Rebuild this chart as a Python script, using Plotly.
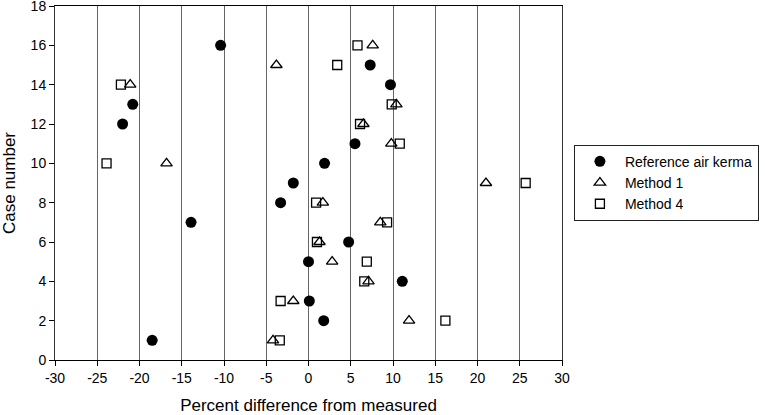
import plotly.graph_objects as go

cases = list(range(1, 17))
ref_air_kerma = [-18.5, 1.8, 0.1, 11.1, 0.0, 4.75, -13.9, -3.3, -1.8, 1.9, 5.5, -22.0, -20.8, 9.7, 7.3, -10.4]
method1 = [-4.2, 11.9, -1.8, 7.1, 2.8, 1.3, 8.5, 1.7, 21.0, -16.8, 9.8, 6.5, 10.4, -21.1, -3.8, 7.6]
method4 = [-3.4, 16.2, -3.3, 6.6, 6.9, 1.0, 9.3, 0.9, 25.7, -23.9, 10.8, 6.1, 9.85, -22.2, 3.4, 5.8]

x_ticks = [-30, -25, -20, -15, -10, -5, 0, 5, 10, 15, 20, 25, 30]
y_ticks = [0, 2, 4, 6, 8, 10, 12, 14, 16, 18]

fig = go.Figure()
fig.add_trace(go.Scatter(x=ref_air_kerma, y=cases, mode="markers", name="Reference air kerma",
                         marker=dict(symbol="circle", size=11, color="black")))
fig.add_trace(go.Scatter(x=method1, y=cases, mode="markers", name="Method 1",
                         marker=dict(symbol="triangle-up-open", size=10, color="black",
                                     line=dict(width=1.3, color="black"))))
fig.add_trace(go.Scatter(x=method4, y=cases, mode="markers", name="Method 4",
                         marker=dict(symbol="square-open", size=9, color="black",
                                     line=dict(width=1.3, color="black"))))

font = "Liberation Sans, Arial, sans-serif"
fig.update_layout(
    width=765, height=415,
    margin=dict(l=55, r=199, t=6, b=55),
    plot_bgcolor="white", paper_bgcolor="white",
    font=dict(family=font, size=14, color="black"),
    showlegend=True,
    legend=dict(x=1.0235, y=0.608, xanchor="left", yanchor="top",
                bordercolor="#222222", borderwidth=1, bgcolor="white",
                font=dict(size=14), entrywidth=145, itemwidth=40, tracegroupgap=0),
    xaxis=dict(range=[-30, 30], tickvals=x_ticks, ticktext=[str(v) for v in x_ticks],
               showgrid=True, gridcolor="#666666", gridwidth=1,
               showline=True, linecolor="black", linewidth=1, mirror=True,
               ticks="outside", ticklen=5, tickcolor="black",
               zeroline=False, automargin=False, ticklabeloverflow="allow",
               title=dict(text="Percent difference from measured", font=dict(size=17), standoff=22)),
    yaxis=dict(range=[0, 18], tickvals=y_ticks, ticktext=[str(v) for v in y_ticks],
               showgrid=False, showline=True, linecolor="#333333", linewidth=1, mirror=True,
               ticks="outside", ticklen=5, tickcolor="black", zeroline=False,
               automargin=False, ticklabeloverflow="allow",
               title=dict(text="Case number", font=dict(size=17), standoff=16)),
)
fig.write_html("out.html", config={"displayModeBar": False},
               post_script="document.body.style.margin='0px';")
